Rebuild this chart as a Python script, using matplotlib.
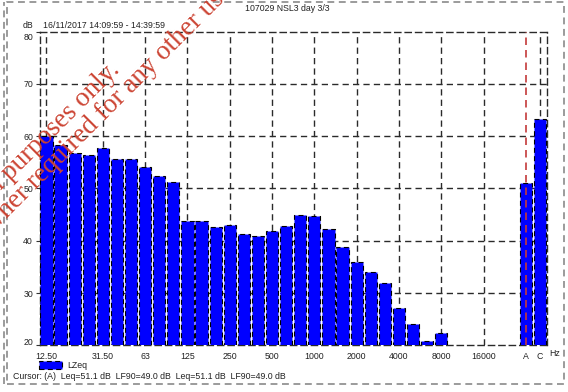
import matplotlib

matplotlib.use("Agg")
import matplotlib.pyplot as plt
from matplotlib.patches import Rectangle
from matplotlib.transforms import ScaledTranslation

W, H = 568, 392
DPI = 100

# one-third octave bands, then the broadband A / C totals
bands = ["12.5", "16", "20", "25", "31.5", "40", "50", "63", "80", "100",
         "125", "160", "200", "250", "315", "400", "500", "630", "800", "1000",
         "1250", "1600", "2000", "2500", "3150", "4000", "5000", "6300", "8000",
         "10000", "12500", "16000", "20000"]
lzeq = [60.0, 58.3, 56.7, 56.4, 57.8, 55.6, 55.7, 54.1, 52.3, 51.2,
        43.8, 43.8, 42.6, 43.0, 41.3, 41.0, 41.9, 42.8, 44.9, 44.7,
        42.2, 38.8, 36.0, 34.1, 32.0, 27.2, 24.1, 20.9, 22.4,
        19.0, 19.0, 19.0, 19.0]
totals = ["A", "C"]
totals_db = [51.1, 63.2]

octave_labels = ["12.50", "31.50", "63", "125", "250", "500", "1000",
                 "2000", "4000", "8000", "16000"]
octave_bands = ["12.5", "31.5", "63", "125", "250", "500", "1000",
                "2000", "4000", "8000", "16000"]
y_ticks = [20, 30, 40, 50, 60, 70, 80]

title = "107029 NSL3 day 3/3"
period = "16/11/2017 14:09:59 - 14:39:59"
cursor = "Cursor: (A)  Leq=51.1 dB  LF90=49.0 dB  Leq=51.1 dB  LF90=49.0 dB"
watermark = ["For inspection purposes only.",
             "Consent of copyright owner required for any other use."]

plt.rcParams["font.family"] = ["Liberation Sans", "DejaVu Sans"]

DASH = (0, (4.5, 3))
GRID = "#2a2a2a"


def fx(x):
    return x / W


def fy(y):
    return 1 - y / H


fig = plt.figure(figsize=(W / DPI, H / DPI), dpi=DPI)
ax = fig.add_axes([fx(40), fy(345.4), fx(547) - fx(40), fy(31.5) - fy(345.4)])

band_x = list(range(len(bands)))
total_x = [len(bands) + 1 + i for i in range(len(totals))]

ax.bar(band_x, lzeq, width=0.865, bottom=0, color="#0000ff",
       edgecolor="black", linewidth=0.8, linestyle=DASH, zorder=3)
ax.bar(total_x, totals_db, width=0.865, color="#0000ff",
       edgecolor="black", linewidth=0.8, linestyle=DASH, zorder=3)

# grid: octave centres plus the C column, dB every 10
octave_x = [bands.index(b) for b in octave_bands]
for x in octave_x + [total_x[1]]:
    ax.axvline(x, color=GRID, lw=1.0, ls=DASH, zorder=1)
for y in y_ticks[1:-1]:
    ax.axhline(y, color=GRID, lw=1.0, ls=DASH, zorder=1)
# cursor on the A column
ax.axvline(total_x[0], color="#c43a3a", lw=1.2, ls=DASH, zorder=4)

ax.set_xlim(-0.454, total_x[1] + 0.5)
ax.set_ylim(20, 80)
for side in ax.spines.values():
    side.set_linestyle(DASH)
    side.set_color(GRID)
    side.set_linewidth(1.0)

ax.set_xticks(octave_x + total_x)
ax.set_xticklabels(octave_labels + totals)
ax.tick_params(axis="x", length=0, pad=4.5, labelsize=6.3, labelcolor="#222")
ax.set_yticks(y_ticks)
ax.set_yticklabels([str(v) for v in y_ticks])
ax.tick_params(axis="y", length=3, width=0.8, color="#333", pad=2,
               labelsize=6.3, labelcolor="#222")
ylabels = ax.get_yticklabels()
ylabels[0].set_transform(ylabels[0].get_transform()
                         + ScaledTranslation(0, 0.035, fig.dpi_scale_trans))
ylabels[-1].set_transform(ylabels[-1].get_transform()
                          + ScaledTranslation(0, -0.055, fig.dpi_scale_trans))

txt = dict(fontsize=6.3, color="#222", va="center")
fig.text(fx(555), fy(354), "Hz", ha="center", **txt)
fig.text(fx(287), fy(8.5), title, ha="center", **txt)
fig.text(fx(23), fy(25.5), "dB", ha="left", **txt)
fig.text(fx(43), fy(25.5), period, ha="left", **txt)
fig.text(fx(13), fy(376.5), cursor, ha="left", **txt)

# legend swatch
fig.patches.append(Rectangle((fx(39), fy(369)), fx(62) - fx(39), fy(361) - fy(369),
                             transform=fig.transFigure, facecolor="#0000ff",
                             edgecolor="black", lw=0.8, ls=DASH))
fig.text(fx(67), fy(365), "LZeq", ha="left", **txt)

# outer dashed frame
fig.patches.append(Rectangle((fx(7), fy(384)), fx(564) - fx(7), fy(2) - fy(384),
                             transform=fig.transFigure, fill=False,
                             edgecolor="#808080", lw=1.1, ls=DASH))
fig.add_artist(plt.Line2D([fx(4), fx(4)], [fy(384), fy(2)], transform=fig.transFigure,
                          color="#808080", lw=1.1, ls=DASH))

# diagonal watermark
wm = dict(rotation=45, rotation_mode="anchor", ha="right", va="baseline",
          family=["Liberation Serif", "DejaVu Serif"], fontsize=19.5,
          color="#cc4433", zorder=10)
fig.text(fx(121), fy(71), watermark[0], **wm)
fig.text(fx(238), fy(-13), watermark[1], **wm)

fig.savefig("out.png", dpi=DPI)
